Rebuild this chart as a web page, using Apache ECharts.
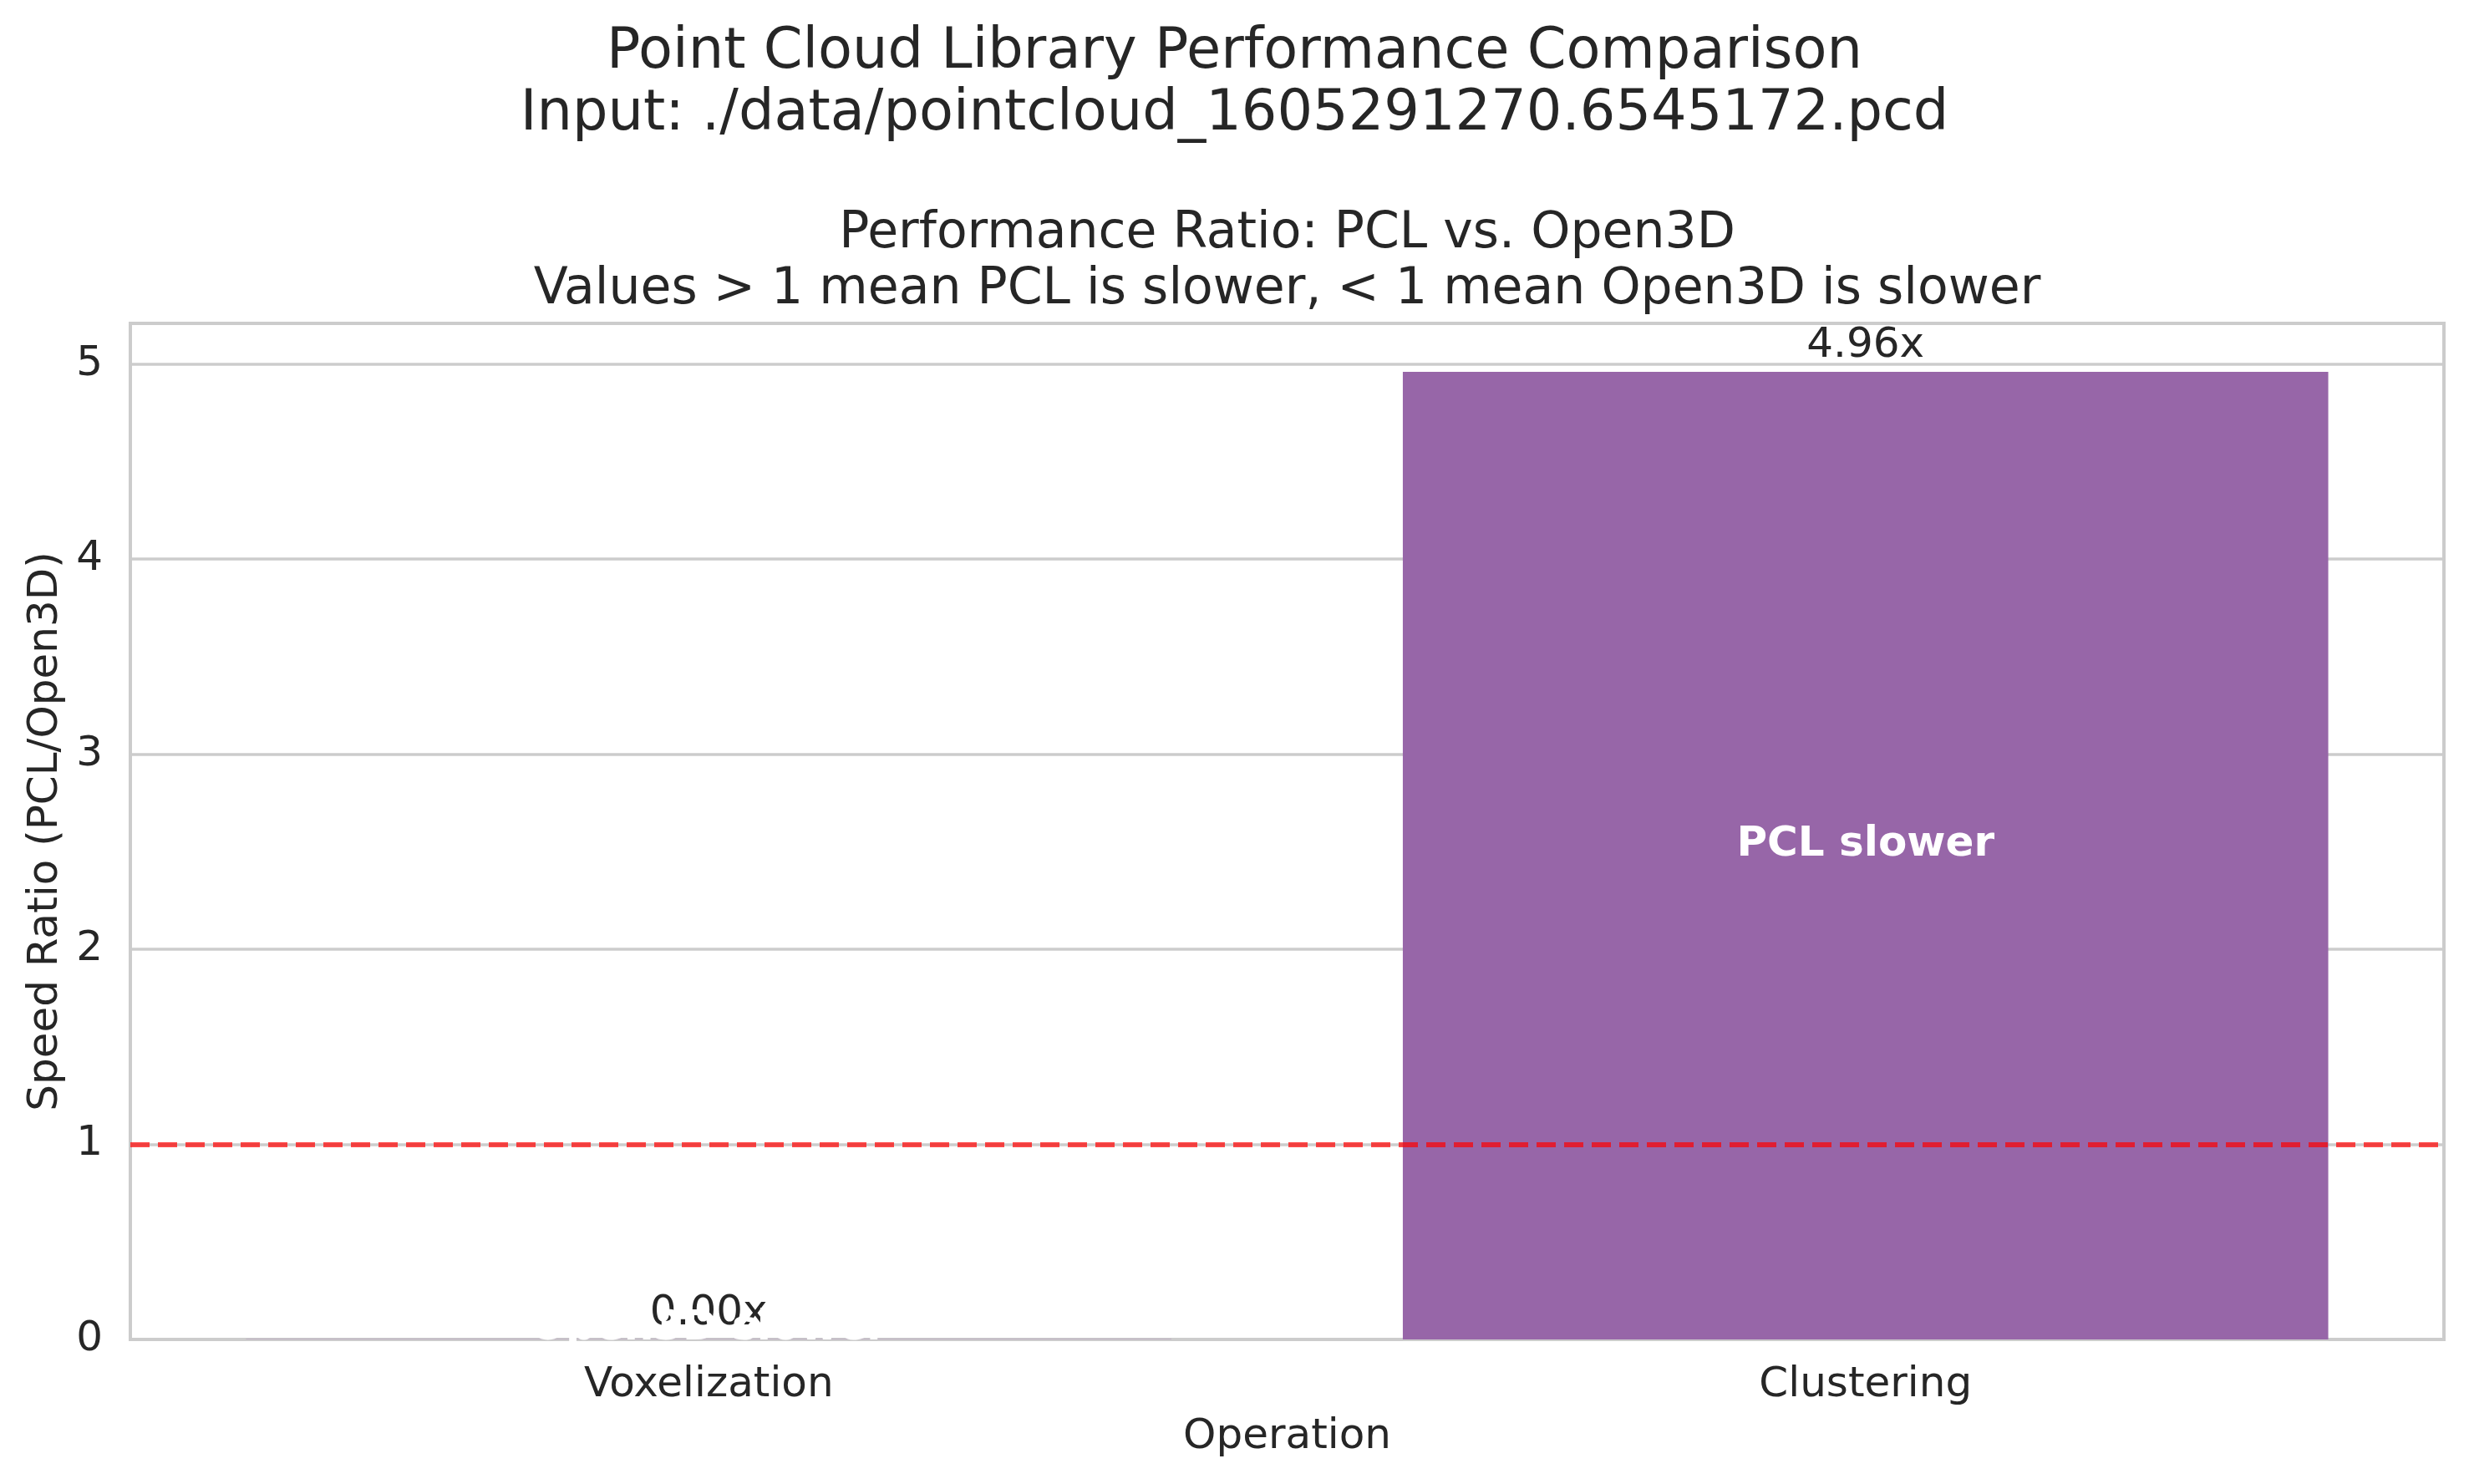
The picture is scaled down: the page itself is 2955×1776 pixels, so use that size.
<!DOCTYPE html>
<html>
<head>
<meta charset="utf-8">
<script src="https://cdn.jsdelivr.net/npm/echarts@6/dist/echarts.min.js"></script>
<style>
html,body{margin:0;padding:0;background:#fff;}
#chart{width:2955px;height:1776px;}
</style>
</head>
<body>
<div id="chart"></div>
<script>
// ---- data ----
const categories = ['Voxelization', 'Clustering'];
const ratios = [0.001, 4.96];
const barNotes = ['Open3D slower', 'PCL slower'];
const yTicks = [0, 1, 2, 3, 4, 5];
const referenceRatio = 1;
const yMax = 5.208;
const suptitleLines = ['Point Cloud Library Performance Comparison', 'Input: ./data/pointcloud_1605291270.6545172.pcd'];
const subtitleLines = ['Performance Ratio: PCL vs. Open3D', 'Values > 1 mean PCL is slower, < 1 mean Open3D is slower'];

const FONT = 'DejaVu Sans';
const TXT = '#262626';
const chart = echarts.init(document.getElementById('chart'), null, {renderer: 'canvas'});

const graphics = [];
suptitleLines.forEach((t, i) => graphics.push({
  type: 'text', x: 1477.5, y: 64 + i * 74,
  style: {text: t, fontSize: 67, fontFamily: FONT, fill: TXT, textAlign: 'center', textVerticalAlign: 'middle'}
}));
subtitleLines.forEach((t, i) => graphics.push({
  type: 'text', x: 1540.5, y: 280 + i * 67,
  style: {text: t, fontSize: 60, fontFamily: FONT, fill: TXT, textAlign: 'center', textVerticalAlign: 'middle'}
}));

chart.setOption({
  animation: false,
  backgroundColor: '#ffffff',
  textStyle: {fontFamily: FONT},
  graphic: graphics,
  grid: {left: 156, right: 30, top: 387, bottom: 173, show: true, borderColor: '#cccccc', borderWidth: 4, backgroundColor: 'transparent', containLabel: false},
  xAxis: {
    type: 'category', data: categories, boundaryGap: true,
    axisLine: {show: false}, axisTick: {show: false},
    axisLabel: {fontSize: 50, color: TXT, margin: 30, fontFamily: FONT},
    splitLine: {show: false},
    name: 'Operation', nameLocation: 'middle', nameGap: 92,
    nameTextStyle: {fontSize: 50, color: TXT, fontFamily: FONT}
  },
  yAxis: {
    type: 'value', min: 0, max: yMax, interval: 1,
    axisLine: {show: false}, axisTick: {show: false},
    axisLabel: {fontSize: 50, color: TXT, margin: 33, fontFamily: FONT, showMaxLabel: false,
      formatter: v => (yTicks.indexOf(v) >= 0 ? String(v) : '')},
    splitLine: {show: true, lineStyle: {color: '#cccccc', width: 3.5}},
    name: 'Speed Ratio (PCL/Open3D)', nameLocation: 'middle', nameGap: 74, nameRotate: 90,
    nameTextStyle: {fontSize: 50, color: TXT, fontFamily: FONT}
  },
  series: [
    {
      type: 'bar', data: ratios, barWidth: '80%', barGap: '-100%',
      itemStyle: {color: '#9766a8'},
      label: {show: true, position: 'top', distance: 6, fontSize: 50, color: TXT, fontFamily: FONT,
        formatter: p => p.value.toFixed(2) + 'x'},
      markLine: {
        silent: true, symbol: 'none', label: {show: false},
        lineStyle: {color: 'rgba(255,0,0,0.7)', width: 6, type: [23, 10]},
        data: [{yAxis: referenceRatio}]
      },
      z: 2
    },
    {
      type: 'bar', data: ratios, barWidth: '80%', barGap: '-100%',
      itemStyle: {color: 'rgba(0,0,0,0)'},
      label: {show: true, position: 'inside', offset: [0, -13], fontSize: 50, fontWeight: 'bold', color: '#ffffff', fontFamily: FONT,
        formatter: p => barNotes[p.dataIndex]},
      z: 3
    }
  ]
});
</script>
</body>
</html>
